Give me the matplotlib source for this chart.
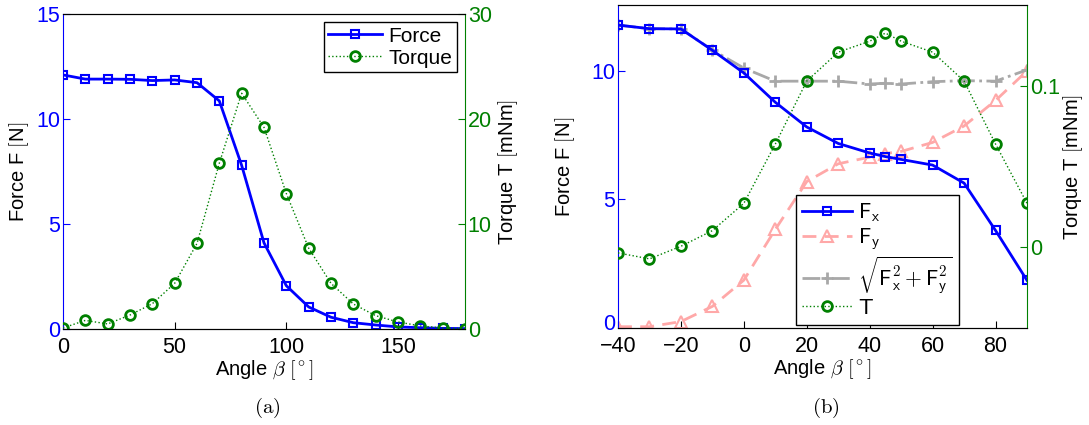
import matplotlib
matplotlib.use("Agg")
import matplotlib.pyplot as plt
from matplotlib.transforms import ScaledTranslation

plt.rcParams['font.family'] = ['Liberation Sans', 'DejaVu Sans']
plt.rcParams['mathtext.fontset'] = 'cm'
plt.rcParams['xtick.direction'] = 'in'
plt.rcParams['ytick.direction'] = 'in'

# (a) force and torque over the full rotation
angle_a = [0, 10, 20, 30, 40, 50, 60, 70, 80, 90, 100, 110, 120, 130, 140, 150, 160, 170, 180]
force_a = [12.1, 11.9, 11.9, 11.89, 11.83, 11.86, 11.73, 10.86, 7.79, 4.10, 2.06, 1.05,
           0.56, 0.30, 0.19, 0.10, 0.06, 0.03, 0.02]
torque_a = [0.1, 0.82, 0.48, 1.33, 2.41, 4.35, 8.15, 15.8, 22.45, 19.2, 12.9, 7.7,
            4.35, 2.38, 1.27, 0.67, 0.29, 0.1, 0.03]

# (b) force components and torque
angle_b = [-40, -30, -20, -10, 0, 10, 20, 30, 40, 45, 50, 60, 70, 80, 90]
fx_b = [11.77, 11.63, 11.62, 10.79, 9.91, 8.77, 7.81, 7.17, 6.80, 6.66, 6.55, 6.33, 5.63, 3.79, 1.85]
fy_b = [0.05, 0.05, 0.25, 0.84, 1.86, 3.83, 5.69, 6.38, 6.64, 6.78, 6.86, 7.21, 7.85, 8.84, 9.99]
fmag_b = [11.77, 11.63, 11.62, 10.80, 10.10, 9.59, 9.59, 9.59, 9.48, 9.51, 9.48, 9.57, 9.61, 9.59, 10.03]
torque_b = [-0.0035, -0.0072, 0.0006, 0.0103, 0.0272, 0.0639, 0.1029, 0.1208, 0.1276, 0.1326,
            0.1276, 0.1208, 0.1029, 0.0639, 0.0272]

BLUE = '#0000ff'
GREEN = '#008000'
PINK = '#ffa8a8'
GRAY = '#a8a8a8'
TICK_FS = 15.5
LABEL_FS = 14.5

fig = plt.figure(figsize=(10.89, 4.25), dpi=100)


def style_axes(ax, ax2, right_color):
    ax.spines['left'].set_color(BLUE)
    ax.spines['right'].set_visible(False)
    ax2.spines['left'].set_visible(False)
    ax2.spines['right'].set_color(right_color)
    ax.tick_params(axis='y', colors=BLUE, labelsize=TICK_FS, length=5, pad=2)
    ax.tick_params(axis='x', labelsize=TICK_FS, length=5, pad=6)
    ax2.tick_params(axis='y', colors=GREEN, labelsize=TICK_FS, length=5, pad=2)


# ---- panel (a) ----
ax = fig.add_axes([63 / 1089, 96 / 425, 402 / 1089, 315 / 425])
ax2 = ax.twinx()
l1, = ax.plot(angle_a, force_a, color=BLUE, lw=2, marker='s', ms=5.5, mfc='none',
              mew=1.5, label='Force')
l2, = ax2.plot(angle_a, torque_a, color=GREEN, lw=1, ls=':', marker='o', ms=7,
               mfc='none', mew=2, label='Torque')
ax.set_xlim(0, 180)
ax.set_ylim(0, 15)
ax2.set_ylim(0, 30)
ax.set_xticks([0, 50, 100, 150])
ax.set_yticks([0, 5, 10, 15])
ax2.set_yticks([0, 10, 20, 30])
style_axes(ax, ax2, GREEN)
ax.set_xlabel(r'Angle $\beta$ $[^\circ]$', fontsize=LABEL_FS, labelpad=0)
ax.set_ylabel(r'Force F $[$N$]$', fontsize=LABEL_FS, labelpad=4)
ax2.set_ylabel(r'Torque T $[$mNm$]$', fontsize=LABEL_FS, labelpad=3)
leg = ax2.legend(handles=[l1, l2], loc='upper right', fontsize=15, fancybox=False,
                 framealpha=1, edgecolor='black', borderpad=0.2, handlelength=2.6,
                 handletextpad=0.3, labelspacing=0.15, borderaxespad=0.4)
leg.get_frame().set_linewidth(1.0)
fig.text(267 / 1089, 1 - 408 / 425, r'$(\mathrm{a})$', ha='center', va='center', fontsize=15)

# ---- panel (b) ----
bx = fig.add_axes([618 / 1089, 97 / 425, 409 / 1089, 323 / 425])
bx2 = bx.twinx()
h1, = bx.plot(angle_b, fx_b, color=BLUE, lw=2, marker='s', ms=5.5, mfc='none',
              mew=1.5, label=r'$\mathsf{F}_{\mathsf{x}}$', zorder=3)
h2, = bx.plot(angle_b, fy_b, color=PINK, lw=2, ls=(0, (5, 3)), marker='^', ms=8,
              mfc='none', mew=1.5, label=r'$\mathsf{F}_{\mathsf{y}}$', zorder=2)
h3, = bx.plot(angle_b, fmag_b, color=GRAY, lw=2, ls='-.', marker='+', ms=8,
              mew=2, label=r'$\sqrt{\mathsf{F}_{\mathsf{x}}^2+\mathsf{F}_{\mathsf{y}}^2}$',
              zorder=2.5)
h4, = bx2.plot(angle_b, torque_b, color=GREEN, lw=1, ls=':', marker='o', ms=7,
               mfc='none', mew=2, label=r'$\mathsf{T}$')
bx.set_xlim(-40, 90)
bx.set_ylim(0, 12.55)
bx2.set_ylim(-0.05, 0.15)
bx.set_xticks([-40, -20, 0, 20, 40, 60, 80])
bx.set_yticks([0, 5, 10])
bx2.set_yticks([0, 0.1])
bx2.set_yticklabels(['0', '0.1'])
style_axes(bx, bx2, GREEN)
# lift the lowest force tick label clear of the "−40" angle label
zero_lab = bx.yaxis.get_major_ticks()[0].label1
zero_lab.set_transform(zero_lab.get_transform()
                       + ScaledTranslation(0, 4 / 72, fig.dpi_scale_trans))
bx.spines['top'].set_color('#333333')
bx.set_xlabel(r'Angle $\beta$ $[^\circ]$', fontsize=LABEL_FS, labelpad=0)
bx.set_ylabel(r'Force F $[$N$]$', fontsize=LABEL_FS, labelpad=10)
bx2.set_ylabel(r'Torque T $[$mNm$]$', fontsize=LABEL_FS, labelpad=1)
leg2 = bx2.legend(handles=[h1, h2, h3, h4], loc='lower left', bbox_to_anchor=(0.435, 0.008),
                  fontsize=15.5, fancybox=False, framealpha=1, edgecolor='black',
                  borderpad=0.3, handlelength=2.3, handletextpad=0.3, labelspacing=0.1,
                  borderaxespad=0)
leg2.get_frame().set_linewidth(1.0)
fig.text(826 / 1089, 1 - 408 / 425, r'$(\mathrm{b})$', ha='center', va='center', fontsize=15)

fig.savefig('out.png', dpi=100)
